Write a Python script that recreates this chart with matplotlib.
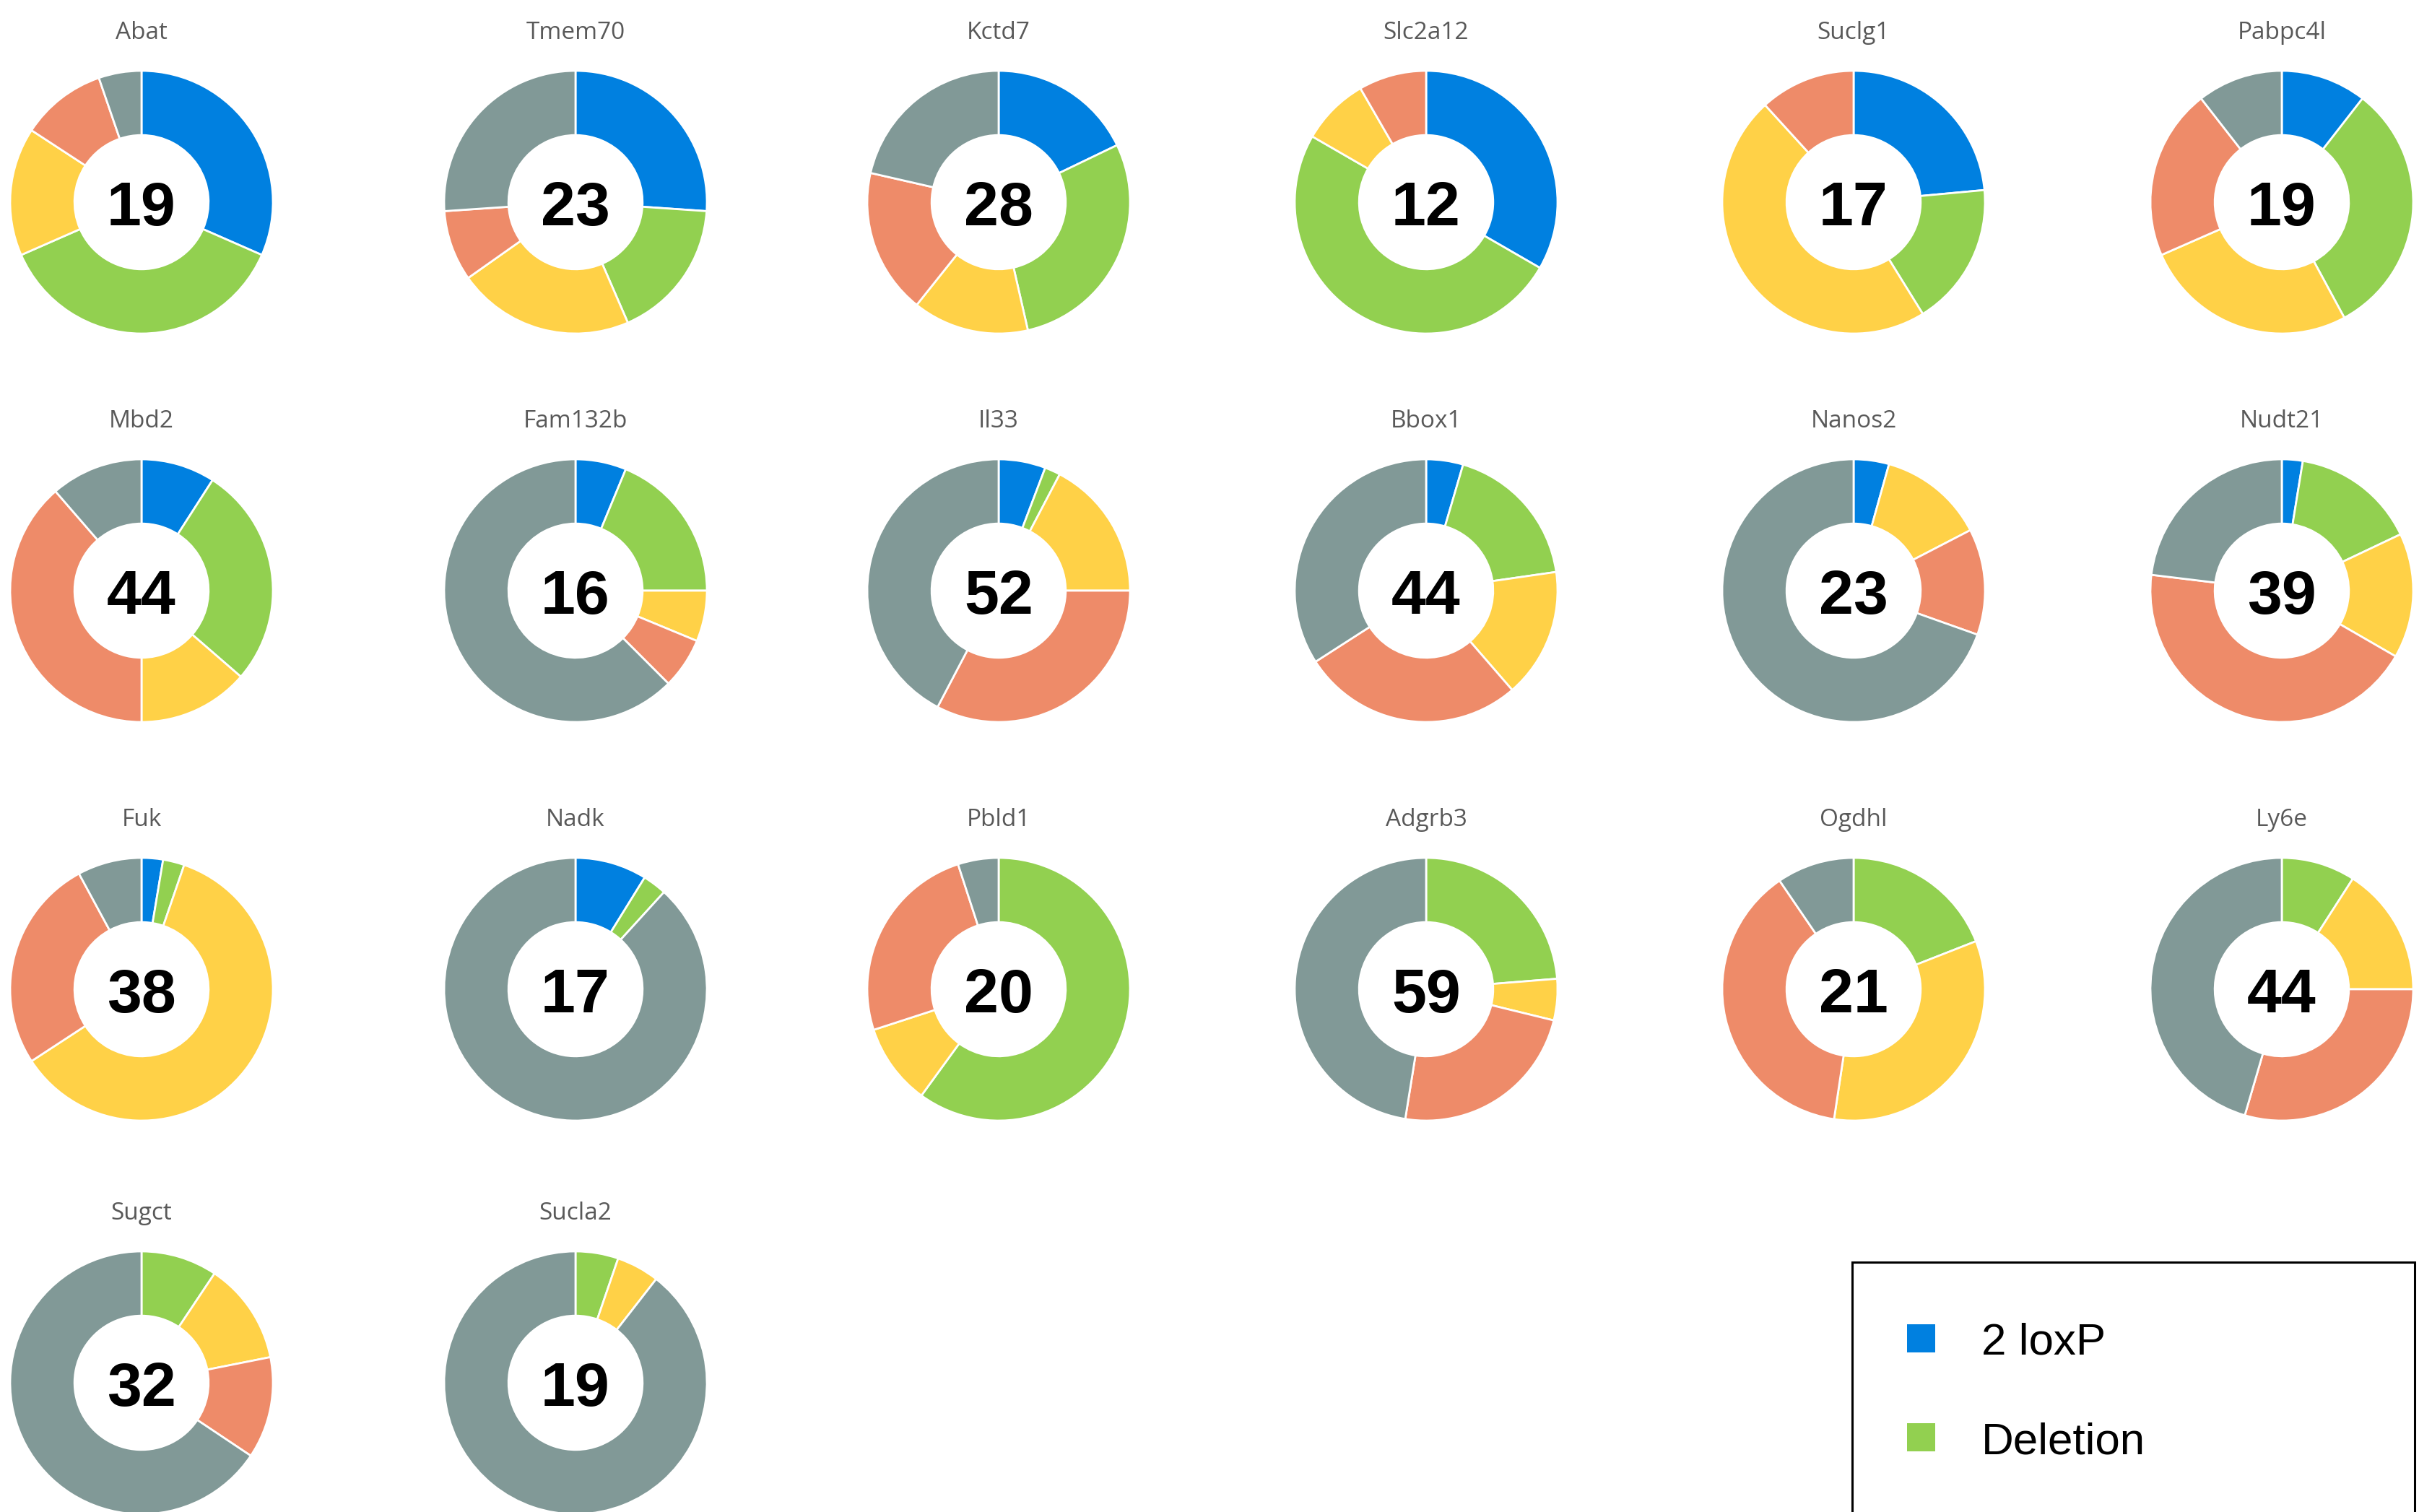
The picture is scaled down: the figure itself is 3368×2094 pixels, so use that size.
import matplotlib
matplotlib.use('Agg')
import matplotlib.pyplot as plt
from matplotlib.patches import Rectangle

# Genes, in reading order (6 per row)
genes = ['Abat', 'Tmem70', 'Kctd7', 'Slc2a12', 'Suclg1', 'Pabpc4l',
         'Mbd2', 'Fam132b', 'Il33', 'Bbox1', 'Nanos2', 'Nudt21',
         'Fuk', 'Nadk', 'Pbld1', 'Adgrb3', 'Ogdhl', 'Ly6e',
         'Sugct', 'Sucla2']
totals = [19, 23, 28, 12, 17, 19,
          44, 16, 52, 44, 23, 39,
          38, 17, 20, 59, 21, 44,
          32, 19]

# Segment sizes, clockwise from 12 o'clock
loxp2    = [6, 6, 5, 4, 4, 2,   4, 1, 3, 2, 1, 1,   1, 1.5, 0, 0, 0, 0,   0, 0]
deletion = [7, 4, 8, 6, 3, 6,   12, 3, 1, 8, 0, 6,  1, 0.5, 12, 14, 4, 4, 3, 1]
yellow   = [3, 5, 4, 1, 8, 5,   6, 1, 9, 7, 3, 6,   23, 0, 2, 3, 7, 7,    4, 1]
orange   = [2, 2, 5, 1, 2, 4,   17, 1, 17, 12, 3, 17, 10, 0, 5, 14, 8, 13, 4, 0]
gray     = [1, 6, 6, 0, 0, 2,   5, 10, 22, 15, 16, 9, 3, 15, 1, 28, 2, 20, 21, 17]

colors = ['#0080E0', '#92D050', '#FFD147', '#EE8B69', '#819997']
legend_labels = ['2 loxP', 'Deletion']

W, H = 3368, 2094
col_x = [196, 797, 1383, 1975, 2567, 3160]
row_y = [280, 818, 1370, 1915]
R = 182

fig = plt.figure(figsize=(W / 200, H / 200), dpi=200)
fig.patch.set_facecolor('white')

for i, gene in enumerate(genes):
    cx = col_x[i % 6]
    cy = row_y[i // 6]
    ax = fig.add_axes([(cx - R) / W, 1 - (cy + R) / H, 2 * R / W, 2 * R / H])
    vals = [loxp2[i], deletion[i], yellow[i], orange[i], gray[i]]
    keep = [(v, c) for v, c in zip(vals, colors) if v > 0]
    ax.pie([v for v, c in keep], colors=[c for v, c in keep],
           startangle=90, counterclock=False, radius=1,
           wedgeprops=dict(width=0.49, edgecolor='white', linewidth=1.0))
    ax.set_xlim(-1, 1)
    ax.set_ylim(-1, 1)
    ax.set_aspect('equal')
    ax.axis('off')
    # digits sit on a baseline so they are centred in the hole
    ax.text(0, -0.175, str(totals[i]), ha='center', va='baseline',
            fontsize=31, fontweight='bold', family='Liberation Sans', color='black')
    ax.text(0, 1.24, gene, ha='center', va='baseline', fontsize=12,
            family='Open Sans', color='#595959', clip_on=False)

# Legend box (cut off by the bottom edge, as in the original)
fig.patches.append(Rectangle((2565 / W, -0.05), (3344 - 2565) / W, 0.05 + 1 - 1748 / H,
                             transform=fig.transFigure, facecolor='white',
                             edgecolor='black', linewidth=1.1, zorder=5))
for k, lab in enumerate(legend_labels):
    yc = 1853 + k * 137
    fig.patches.append(Rectangle((2641 / W, 1 - (yc + 20) / H), 39 / W, 39 / H,
                                 transform=fig.transFigure, facecolor=colors[k],
                                 edgecolor='none', zorder=6))
    fig.text(2744 / W, 1 - (yc + 23) / H, lab, ha='left', va='baseline', fontsize=22.3,
             family='Liberation Sans', color='black', zorder=7)

plt.savefig('out.png', dpi=200)
